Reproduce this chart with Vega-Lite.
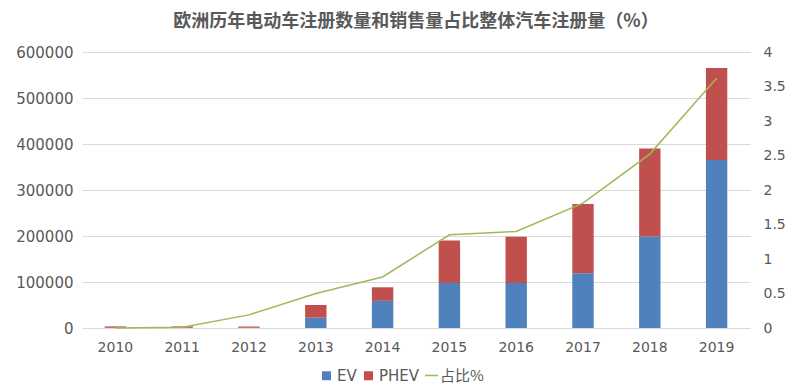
{
  "$schema": "https://vega.github.io/schema/vega-lite/v6.json",
  "width": 668,
  "height": 276,
  "autosize": {"type": "none"},
  "padding": {"left": 82, "top": 52, "right": 50, "bottom": 63},
  "background": "white",
  "title": {
    "text": "欧洲历年电动车注册数量和销售量占比整体汽车注册量（%）",
    "font": "Noto Sans CJK SC",
    "fontSize": 18,
    "fontWeight": "bold",
    "color": "#595959",
    "anchor": "middle",
    "offset": 14
  },
  "config": {
    "view": {"stroke": null},
    "axis": {"labelFont": "DejaVu Sans", "labelColor": "#595959", "domain": false, "ticks": false, "titleFontSize": 0},
    "legend": {"labelFont": "DejaVu Sans", "labelColor": "#595959", "labelFontSize": 15}
  },
  "datasets": {
    "bars": [
      {"year": "2010", "type": "EV", "value": 500},
      {"year": "2010", "type": "PHEV", "value": 3000},
      {"year": "2011", "type": "EV", "value": 500},
      {"year": "2011", "type": "PHEV", "value": 3000},
      {"year": "2012", "type": "EV", "value": 500},
      {"year": "2012", "type": "PHEV", "value": 3000},
      {"year": "2013", "type": "EV", "value": 22500},
      {"year": "2013", "type": "PHEV", "value": 27500},
      {"year": "2014", "type": "EV", "value": 59000},
      {"year": "2014", "type": "PHEV", "value": 29500},
      {"year": "2015", "type": "EV", "value": 98000},
      {"year": "2015", "type": "PHEV", "value": 92000},
      {"year": "2016", "type": "EV", "value": 98000},
      {"year": "2016", "type": "PHEV", "value": 100500},
      {"year": "2017", "type": "EV", "value": 119000},
      {"year": "2017", "type": "PHEV", "value": 150500},
      {"year": "2018", "type": "EV", "value": 199000},
      {"year": "2018", "type": "PHEV", "value": 191000},
      {"year": "2019", "type": "EV", "value": 365000},
      {"year": "2019", "type": "PHEV", "value": 200000}
    ],
    "share": [
      {"year": "2010", "pct": 0.0},
      {"year": "2011", "pct": 0.01},
      {"year": "2012", "pct": 0.19},
      {"year": "2013", "pct": 0.5},
      {"year": "2014", "pct": 0.74},
      {"year": "2015", "pct": 1.35},
      {"year": "2016", "pct": 1.4},
      {"year": "2017", "pct": 1.81},
      {"year": "2018", "pct": 2.52},
      {"year": "2019", "pct": 3.62}
    ]
  },
  "layer": [
    {
      "data": {"name": "bars"},
      "mark": {"type": "bar"},
      "encoding": {
        "x": {
          "field": "year", "type": "ordinal", "title": null,
          "scale": {"paddingInner": 0.68, "paddingOuter": 0.34},
          "axis": {"labelAngle": 0, "labelFontSize": 14, "labelPadding": 12, "grid": false}
        },
        "y": {
          "field": "value", "type": "quantitative", "stack": "zero", "title": null,
          "scale": {"domain": [0, 600000], "nice": false},
          "axis": {"values": [0, 100000, 200000, 300000, 400000, 500000, 600000], "format": "d", "labelFontSize": 15, "labelPadding": 9, "grid": true, "gridColor": "#d9d9d9", "gridWidth": 1}
        },
        "color": {
          "field": "type", "type": "nominal",
          "scale": {"domain": ["EV", "PHEV"], "range": ["#4F81BD", "#C0504D"]},
          "legend": {"orient": "none", "legendX": 237, "legendY": 316, "direction": "horizontal", "title": null, "symbolType": "square", "symbolSize": 81, "symbolStrokeWidth": 0, "columnPadding": 4, "labelOffset": 3}
        },
        "order": {"field": "type", "sort": "ascending"}
      }
    },
    {
      "data": {"name": "share"},
      "mark": {"type": "line", "strokeWidth": 1.5},
      "encoding": {
        "x": {"field": "year", "type": "ordinal"},
        "y": {
          "field": "pct", "type": "quantitative", "title": null,
          "scale": {"domain": [0, 4], "nice": false},
          "axis": {"orient": "right", "values": [0, 0.5, 1, 1.5, 2, 2.5, 3, 3.5, 4], "format": "~g", "labelFontSize": 14, "labelPadding": 13, "grid": false}
        },
        "stroke": {
          "datum": "占比%",
          "scale": {"range": ["#9BBB59"]},
          "legend": {"orient": "none", "legendX": 342, "legendY": 316, "title": null, "symbolType": "stroke", "symbolSize": 169, "symbolStrokeWidth": 1.5, "labelOffset": 1, "labelFont": "Noto Sans CJK SC"}
        }
      }
    }
  ],
  "resolve": {"scale": {"y": "independent"}}
}
